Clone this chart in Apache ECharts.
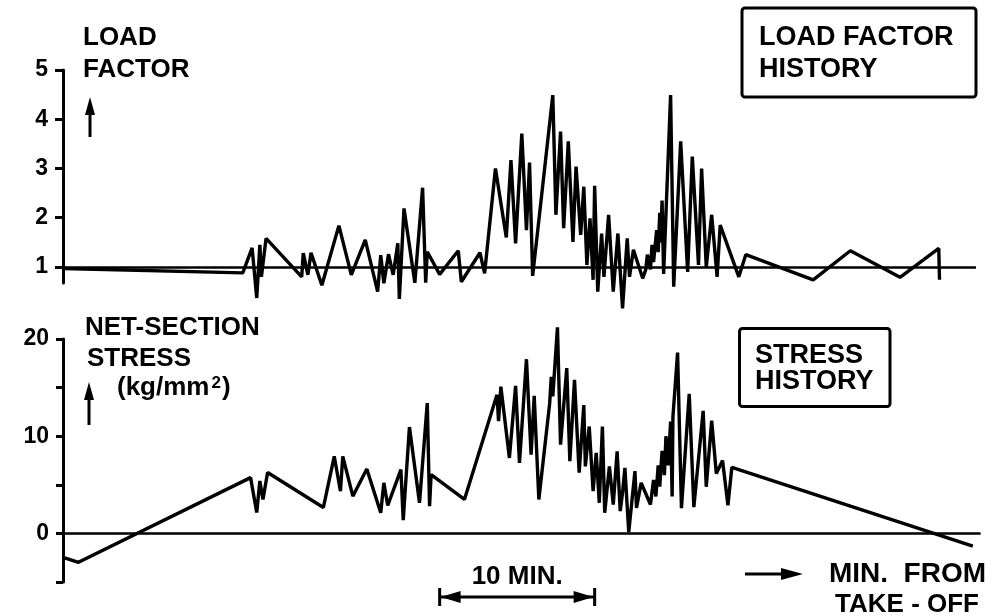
<!DOCTYPE html>
<html><head><meta charset="utf-8">
<script src="https://cdn.jsdelivr.net/npm/echarts@6/dist/echarts.min.js"></script>
<style>html,body{margin:0;padding:0;background:#fff}#c{width:996px;height:616px}</style>
</head><body><div id="c"></div><script>
// time in minutes from take-off (axis origin), value
const loadHistory = [
 [0,0.97],[11.6,0.88],[12.2,1.39],[12.5,0.37],[12.7,1.45],[12.8,0.8],[13.1,1.58],[15.4,0.8],[15.5,1.28],[15.8,0.84],
 [16.0,1.29],[16.7,0.63],[17.8,1.84],[18.6,0.84],[19.5,1.55],[20.3,0.5],[20.5,1.24],[20.7,0.67],[21.0,1.26],[21.3,0.84],
 [21.6,1.48],[21.7,0.35],[22.0,2.19],[22.7,0.68],[23.2,2.61],[23.4,0.68],[23.5,1.31],[24.3,0.85],[25.5,1.33],[25.7,0.7],
 [26.9,1.29],[27.2,0.87],[27.9,3.0],[28.6,1.6],[28.9,3.17],[29.2,1.48],[29.6,3.71],[29.9,1.75],[30.1,3.12],[30.3,0.82],
 [31.6,4.49],[31.8,2.06],[32.1,3.75],[32.3,1.79],[32.6,3.55],[32.9,1.51],[33.1,3.04],[33.4,1.65],[33.6,2.63],[33.8,1.04],
 [34.0,1.99],[34.2,0.74],[34.3,2.65],[34.5,0.5],[34.75,1.68],[34.9,0.8],[35.2,2.06],[35.5,0.5],[35.8,1.68],[36.1,0.16],
 [36.4,1.58],[36.55,0.8],[36.8,1.35],[37.4,0.77],[37.6,0.95],[37.7,1.25],[37.9,0.95],[38.0,1.45],[38.1,1.1],[38.3,1.75],
 [38.4,1.3],[38.5,2.1],[38.55,1.5],[38.65,2.35],[38.75,0.86],[39.2,4.49],[39.4,0.6],[39.85,3.55],[40.3,0.9],[40.6,3.24],
 [41.0,1.04],[41.2,3.0],[41.5,1.0],[41.85,2.06],[42.2,0.8],[42.4,1.85],[43.6,0.8],[44.05,1.25],[48.4,0.74],[50.8,1.33],
 [54.0,0.79],[56.5,1.38],[56.55,0.74]
];
const stressHistory = [
 [0,-2.46],[1.0,-2.97],[12.1,5.74],[12.5,2.15],[12.7,5.4],[12.9,3.5],[13.2,6.26],[16.8,2.67],[17.5,7.93],[17.9,4.34],
 [18.05,7.93],[18.7,3.83],[19.6,6.63],[20.5,2.12],[20.7,5.2],[20.95,2.87],[21.8,6.56],[21.95,1.36],[22.35,10.94],[23.0,3.15],
 [23.5,13.4],[23.65,2.8],[23.75,6.05],[25.9,3.49],[28.0,14.26],[28.1,11.56],[28.25,15.1],[28.8,7.76],[29.2,15.18],[29.45,7.25],
 [29.9,17.92],[30.2,8.1],[30.4,14.15],[30.7,3.49],[31.4,13.4],[31.5,16.1],[31.6,14.1],[31.9,21.2],[32.1,9.13],[32.5,17.0],
 [32.7,7.42],[33.0,15.8],[33.3,6.24],[33.6,13.2],[33.7,6.9],[33.95,11.0],[34.2,4.34],[34.4,8.28],[34.6,3.15],[34.8,11.0],
 [34.95,2.12],[35.25,6.9],[35.5,2.97],[35.75,8.44],[35.95,2.3],[36.1,4.17],[36.25,6.74],[36.5,0.14],[36.9,6.41],[37.0,2.63],
 [37.3,5.2],[37.9,2.97],[38.1,5.5],[38.25,3.8],[38.4,7.0],[38.5,4.8],[38.65,8.5],[38.8,6.0],[38.9,10.0],[39.05,7.0],
 [39.2,11.5],[39.3,3.8],[39.35,12.0],[39.65,18.6],[39.9,2.6],[40.4,14.36],[40.7,2.7],[41.3,12.6],[41.5,4.8],[41.85,11.6],
 [42.15,6.15],[42.55,7.5],[42.9,2.9],[43.15,6.8],[58.7,-1.3]
];
const loadTicks = [1, 2, 3, 4, 5];
const stressLabels = [0, 10, 20];
const loadBaseline = 1, loadBaselineEnd = 58.9;
const stressBaseline = 0, stressBaselineEnd = 59.2;
const timeMax = 59.2;
const scaleBarStart = 24.3, scaleBarMinutes = 10;

const FONT = '"Liberation Sans", Arial, sans-serif';
const chart = echarts.init(document.getElementById('c'), null, {renderer: 'canvas'});
const axisCommon = {
  axisLine: {show: true, lineStyle: {color: '#000', width: 3}},
  axisTick: {show: true, length: 8, lineStyle: {color: '#000', width: 3}},
  splitLine: {show: false},
  axisLabel: {color: '#000', fontFamily: FONT, fontWeight: 'bold', fontSize: 23}
};
const lineStyle = {color: '#000', width: 3.4};
function baseMark(y, end) {
  return {symbol: ['none', 'none'], silent: true, label: {show: false},
    lineStyle: {color: '#000', width: 2.6, type: 'solid'}, animation: false,
    data: [[{coord: [0, y]}, {coord: [end, y]}]]};
}
chart.setOption({
  animation: false,
  backgroundColor: '#fff',
  grid: [
    {left: 63, top: 70, height: 213, width: timeMax * 15.5},
    {left: 63, top: 339, height: 243, width: timeMax * 15.5}
  ],
  xAxis: [
    {gridIndex: 0, type: 'value', min: 0, max: timeMax, show: false},
    {gridIndex: 1, type: 'value', min: 0, max: timeMax, show: false}
  ],
  yAxis: [
    Object.assign({}, axisCommon, {gridIndex: 0, type: 'value', min: 0.675, max: 5,
      axisTick: Object.assign({}, axisCommon.axisTick, {customValues: loadTicks}),
      axisLabel: Object.assign({}, axisCommon.axisLabel, {customValues: loadTicks, margin: 15})}),
    Object.assign({}, axisCommon, {gridIndex: 1, type: 'value', min: -5, max: 20, interval: 5,
      axisTick: Object.assign({}, axisCommon.axisTick, {length: 7}),
      axisLabel: Object.assign({}, axisCommon.axisLabel, {margin: 14,
        formatter: v => stressLabels.indexOf(v) >= 0 ? String(v) : ''})})
  ],
  series: [
    {type: 'line', xAxisIndex: 0, yAxisIndex: 0, data: loadHistory, showSymbol: false, symbol: 'none',
      clip: false, lineStyle: lineStyle, markLine: baseMark(loadBaseline, loadBaselineEnd)},
    {type: 'line', xAxisIndex: 1, yAxisIndex: 1, data: stressHistory, showSymbol: false, symbol: 'none',
      clip: false, lineStyle: lineStyle, markLine: baseMark(stressBaseline, stressBaselineEnd)}
  ]
});

function txt(t, x, y, size, align, rich) {
  const st = {text: t, font: 'bold ' + size + 'px ' + FONT, fill: '#000', align: align || 'left', verticalAlign: 'middle'};
  if (rich) st.rich = rich;
  return {type: 'text', x: x, y: y, silent: true, style: st};
}
function upArrow(x, y1, y2) {
  return [
    {type: 'line', shape: {x1: x, y1: y1 + 12, x2: x, y2: y2}, style: {stroke: '#000', lineWidth: 3}},
    {type: 'polygon', shape: {points: [[x, y1], [x - 5, y1 + 18], [x + 5, y1 + 18]]}, style: {fill: '#000'}}
  ];
}
const sx0 = chart.convertToPixel({xAxisIndex: 1}, scaleBarStart);
const sx1 = chart.convertToPixel({xAxisIndex: 1}, scaleBarStart + scaleBarMinutes);
const sy = 597;
const supRich = {
  b: {font: 'bold 26px ' + FONT, fill: '#000'},
  s: {font: 'bold 17px ' + FONT, fill: '#000', verticalAlign: 'top', padding: [0, 1, 0, 2]}
};
const g = [
  txt('LOAD', 83, 38, 26), txt('FACTOR', 83, 69.5, 26),
  txt('NET-SECTION', 85, 327.5, 26), txt('STRESS', 87, 359, 26),
  txt('{b|(kg/mm}{s|2}{b|)}', 117, 388, 26, 'left', supRich),
  {type: 'rect', shape: {x: 742, y: 8, width: 234, height: 89, r: 3}, style: {fill: 'none', stroke: '#000', lineWidth: 3}},
  txt('LOAD FACTOR', 759, 38, 27), txt('HISTORY', 759, 69.5, 27),
  {type: 'rect', shape: {x: 739.5, y: 328.5, width: 150.5, height: 78, r: 3}, style: {fill: 'none', stroke: '#000', lineWidth: 3}},
  txt('STRESS', 755, 355.5, 27), txt('HISTORY', 755, 381.5, 27),
  txt('10 MIN.', (sx0 + sx1) / 2, 577, 26, 'center'),
  {type: 'line', shape: {x1: sx0, y1: sy, x2: sx1, y2: sy}, style: {stroke: '#000', lineWidth: 3}},
  {type: 'line', shape: {x1: sx0, y1: sy - 9, x2: sx0, y2: sy + 9}, style: {stroke: '#000', lineWidth: 3}},
  {type: 'line', shape: {x1: sx1, y1: sy - 9, x2: sx1, y2: sy + 9}, style: {stroke: '#000', lineWidth: 3}},
  {type: 'polygon', shape: {points: [[sx0 + 1, sy], [sx0 + 21, sy - 6], [sx0 + 21, sy + 6]]}, style: {fill: '#000'}},
  {type: 'polygon', shape: {points: [[sx1 - 1, sy], [sx1 - 21, sy - 6], [sx1 - 21, sy + 6]]}, style: {fill: '#000'}},
  {type: 'line', shape: {x1: 745, y1: 574, x2: 785, y2: 574}, style: {stroke: '#000', lineWidth: 3}},
  {type: 'polygon', shape: {points: [[803, 574], [781, 568], [781, 580]]}, style: {fill: '#000'}},
  txt('MIN.  FROM', 986, 574, 28, 'right'),
  txt('TAKE - OFF', 979, 605, 26, 'right')
].concat(upArrow(90, 97, 137), upArrow(89, 382, 425));
chart.setOption({graphic: {elements: g}});
</script></body></html>
